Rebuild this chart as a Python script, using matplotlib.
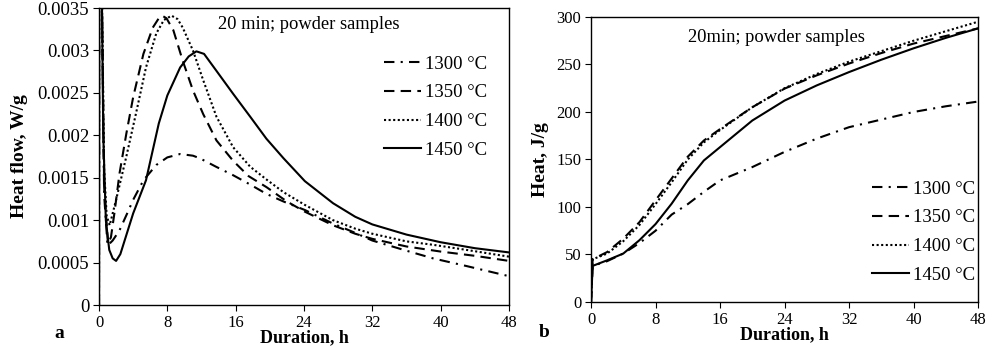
import numpy as np
import matplotlib
matplotlib.use("Agg")
import matplotlib.pyplot as plt

plt.rcParams['font.family'] = ['Liberation Serif', 'DejaVu Serif']

labels = ['1300 °C', '1350 °C', '1400 °C', '1450 °C']
styles = [(0, (5, 3, 1, 3)), (0, (5, 3)), (0, (1, 1.2)), '-']

# panel a: heat flow, W/g
t_1300 = [0, 0.1, 0.3, 0.6, 1.0, 1.6, 2.4, 3.3, 4.0, 5.2, 6.7, 8.0, 9.5, 11, 11.8,
          13.7, 15.7, 17.7, 19.6, 21.6, 24.1, 27.4, 30, 32, 36, 39.1, 43, 48]
q_1300 = [0, 0.02, 0.004, 0.0013, 0.0007, 0.00076, 0.00088, 0.00108, 0.00124, 0.00147,
          0.00165, 0.00174, 0.00178, 0.00176, 0.00173, 0.00163, 0.00153, 0.00142,
          0.00131, 0.00122, 0.00112, 0.00096, 0.00085, 0.00076, 0.00064, 0.00055,
          0.00046, 0.00034]

t_1350 = [0, 0.1, 0.3, 0.6, 1.05, 1.4, 1.8, 2.4, 3.2, 4.0, 5.2, 6.3, 7.0, 7.4, 7.9, 8.7,
          9.8, 11.0, 12.2, 13.75, 15.7, 17.5, 19.6, 22, 24.1, 27.4, 30, 32, 36, 40,
          44, 48]
q_1350 = [0, 0.02, 0.004, 0.0014, 0.00072, 0.0008, 0.00108, 0.00155, 0.00202, 0.00245,
          0.00296, 0.00327, 0.00338, 0.00341, 0.00338, 0.00324, 0.00288, 0.00253,
          0.00225, 0.00194, 0.0017, 0.00152, 0.00139, 0.00122, 0.0011, 0.00094,
          0.00084, 0.00078, 0.00069, 0.00063, 0.00058, 0.00052]

t_1400 = [0, 0.1, 0.3, 0.6, 0.9, 1.25, 2.0, 3.2, 4.4, 5.5, 6.7, 7.6, 8.5, 9.2, 9.8,
          11.0, 12.2, 13.75, 15.7, 17.7, 19.6, 21.6, 24.1, 27.4, 30, 32, 36, 39.1,
          43, 48]
q_1400 = [0, 0.02, 0.004, 0.0016, 0.00105, 0.00094, 0.00124, 0.00175, 0.00229, 0.0028,
          0.0032, 0.00336, 0.00341, 0.00337, 0.00327, 0.003, 0.00265, 0.00222,
          0.00186, 0.00163, 0.00148, 0.00133, 0.00118, 0.001, 0.0009, 0.00084,
          0.00075, 0.00071, 0.00065, 0.00057]

t_1450 = [0, 0.1, 0.3, 0.5, 0.8, 1.2, 1.6, 2.0, 2.5, 3.0, 4.0, 5.5, 7.0, 8.0, 9.5,
          10.5, 11.4, 12.3, 13.75, 15.7, 17.7, 19.6, 21.6, 24.1, 27.4, 30, 32, 36,
          40, 44, 48]
q_1450 = [0, 0.02, 0.004, 0.002, 0.001, 0.00065, 0.00055, 0.00052, 0.0006, 0.00076,
          0.00108, 0.00147, 0.00214, 0.00247, 0.0028, 0.00293, 0.00299, 0.00296,
          0.00276, 0.00249, 0.00222, 0.00196, 0.00173, 0.00146, 0.0012, 0.00104,
          0.00095, 0.00083, 0.00074, 0.00067, 0.00062]

# panel b: cumulative heat, J/g
h_t = [0, 0.2, 2, 4, 6, 8, 10, 12, 14, 16, 20, 24, 28, 32, 36, 40, 44, 48]
h_1300 = [0, 38, 43, 51, 62, 75, 92, 103, 116, 128, 142, 158, 172, 184, 192, 200, 206, 211]
h_1350 = [0, 45, 52.6, 66.7, 84, 107, 130, 153, 170, 182, 205, 224.6, 238.6, 251, 262, 272, 280, 288]
h_1400 = [0, 45, 51, 64, 81, 103, 126, 150, 168, 181, 205, 225, 240, 253, 264, 275, 285, 295]
h_1450 = [0, 38, 43.9, 51, 65, 82, 103.5, 128, 149, 163, 191, 212, 228, 242, 255, 267, 278, 288]

fig = plt.figure(figsize=(9.92, 3.51), dpi=100)
ax1 = fig.add_axes([0.0998, 0.131, 0.4133, 0.846])
ax2 = fig.add_axes([0.5958, 0.1396, 0.3901, 0.812])

flow = [(t_1300, q_1300), (t_1350, q_1350), (t_1400, q_1400), (t_1450, q_1450)]
for (t, q), lab, ls in zip(flow, labels, styles):
    ax1.plot(t, q, color='black', lw=1.5, linestyle=ls, label=lab)

heat = [h_1300, h_1350, h_1400, h_1450]
for h, lab, ls in zip(heat, labels, styles):
    ax2.plot(h_t, h, color='black', lw=1.5, linestyle=ls, label=lab)

x_ticks = [0, 8, 16, 24, 32, 40, 48]
flow_ticks = [0, 0.0005, 0.001, 0.0015, 0.002, 0.0025, 0.003, 0.0035]
flow_tick_labels = ['0', '0.0005', '0.001', '0.0015', '0.002', '0.0025', '0.003', '0.0035']
heat_ticks = [0, 50, 100, 150, 200, 250, 300]

ax1.set_xlim(0, 48)
ax1.set_ylim(0, 0.0035)
ax1.set_yticks(flow_ticks)
ax1.set_yticklabels(flow_tick_labels)
ax2.set_xlim(0, 48)
ax2.set_ylim(0, 300)
ax2.set_yticks(heat_ticks)

for ax in (ax1, ax2):
    ax.set_xticks(x_ticks)
    ax.tick_params(direction='out', length=4, width=0.8, labelsize=12, pad=3)
    ax.set_xlabel('Duration, h', fontsize=13, fontweight='bold', labelpad=-1)
    for s in ax.spines.values():
        s.set_linewidth(1.0)
ax1.tick_params(axis='y', labelsize=13.5)

ax1.set_ylabel('Heat flow, W/g', fontsize=14, fontweight='bold', labelpad=7)
ax2.set_ylabel('Heat, J/g', fontsize=14, fontweight='bold', labelpad=5)

ax1.text(0.29, 0.945, '20 min; powder samples', transform=ax1.transAxes, fontsize=13.3,
         va='center', ha='left')
ax2.text(0.251, 0.927, '20min; powder samples', transform=ax2.transAxes, fontsize=13.3,
         va='center', ha='left')

leg_kw = dict(frameon=False, fontsize=13.5, handlelength=2.0, handletextpad=0.2,
              labelspacing=0.62, borderpad=0, borderaxespad=0, loc='upper left')
ax1.legend(bbox_to_anchor=(0.695, 0.84), **leg_kw)
ax2.legend(bbox_to_anchor=(0.726, 0.426), **leg_kw)

fig.text(0.06, 0.05, 'a', fontsize=14, fontweight='bold', ha='center', va='center')
fig.text(0.549, 0.054, 'b', fontsize=14, fontweight='bold', ha='center', va='center')

fig.savefig('out.png', dpi=100)
